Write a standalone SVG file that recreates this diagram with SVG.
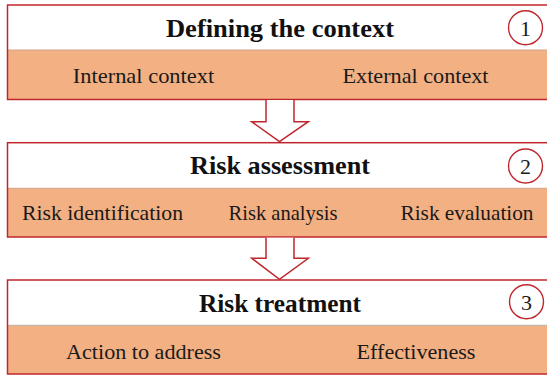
<svg xmlns="http://www.w3.org/2000/svg" width="547" height="375" viewBox="0 0 547 375">
<style>
.top{fill:#ffffff}
.bot{fill:#F3B083}
.div1{stroke:#D2A385;stroke-width:1}
.div3{stroke:#B8B0AA;stroke-width:1}
.frame{fill:none;stroke:#C0272D;stroke-width:1.5}
.title{font-family:"Liberation Serif",serif;font-weight:bold;font-size:25px;fill:#111;text-anchor:middle}
.sub{font-family:"Liberation Serif",serif;font-size:21px;fill:#1a1a1a;text-anchor:middle}
.num{font-family:"Liberation Serif",serif;font-size:22px;fill:#1a1a1a;text-anchor:middle}
.circ{fill:#fff;stroke:#C0272D;stroke-width:1.4}
.arrow{fill:#fff;stroke:#C0272D;stroke-width:1.5;stroke-linejoin:miter}
</style>
<rect width="547" height="375" fill="#fff"/>
<g id="node1">
<rect class="top" x="7.5" y="5" width="560" height="45"/>
<rect class="bot" x="7.5" y="50" width="560" height="49.5"/>
<line class="div1" x1="7.5" y1="50" x2="560" y2="50"/>
<rect class="frame" x="7.5" y="5" width="560" height="94.5"/>
<text class="title" x="280" y="37" textLength="228" lengthAdjust="spacingAndGlyphs">Defining the context</text>
<circle class="circ" cx="525.5" cy="27.7" r="17"/>
<text class="num" x="525.5" y="35.5">1</text>
<text class="sub" x="143.5" y="82.7" textLength="141.5" lengthAdjust="spacingAndGlyphs">Internal context</text>
<text class="sub" x="415.5" y="82.7" textLength="146" lengthAdjust="spacingAndGlyphs">External context</text>
</g>
<g id="node2">
<rect class="top" x="7.5" y="142.7" width="560" height="45.6"/>
<rect class="bot" x="7.5" y="188.3" width="560" height="48.7"/>
<line class="div1" x1="7.5" y1="188.3" x2="560" y2="188.3"/>
<rect class="frame" x="7.5" y="142.7" width="560" height="94.3"/>
<text class="title" x="280" y="174.3" textLength="180" lengthAdjust="spacingAndGlyphs">Risk assessment</text>
<circle class="circ" cx="525.5" cy="166" r="17"/>
<text class="num" x="525.5" y="173.8">2</text>
<text class="sub" x="102.5" y="220" textLength="161" lengthAdjust="spacingAndGlyphs">Risk identification</text>
<text class="sub" x="283" y="220" textLength="109" lengthAdjust="spacingAndGlyphs">Risk analysis</text>
<text class="sub" x="467" y="220" textLength="133" lengthAdjust="spacingAndGlyphs">Risk evaluation</text>
</g>
<g id="node3">
<rect class="top" x="7.5" y="280" width="560" height="45.3"/>
<rect class="bot" x="7.5" y="325.3" width="560" height="48.7"/>
<line class="div3" x1="7.5" y1="325.3" x2="560" y2="325.3"/>
<rect class="frame" x="7.5" y="280" width="560" height="94"/>
<text class="title" x="280" y="311.7" textLength="162" lengthAdjust="spacingAndGlyphs">Risk treatment</text>
<circle class="circ" cx="526.5" cy="301.7" r="17"/>
<text class="num" x="526.5" y="309.5">3</text>
<text class="sub" x="143.5" y="359.3" textLength="155" lengthAdjust="spacingAndGlyphs">Action to address</text>
<text class="sub" x="416" y="359.3" textLength="119" lengthAdjust="spacingAndGlyphs">Effectiveness</text>
</g>
<g id="connectors">
<path class="arrow" d="M266,100 L266,121.7 L251.7,121.7 L279.5,141.7 L308.3,121.7 L294,121.7 L294,100"/>
<path class="arrow" d="M266,237.8 L266,258.3 L251.7,258.3 L279.5,279.3 L308.3,258.3 L294,258.3 L294,237.8"/>
</g>
</svg>
